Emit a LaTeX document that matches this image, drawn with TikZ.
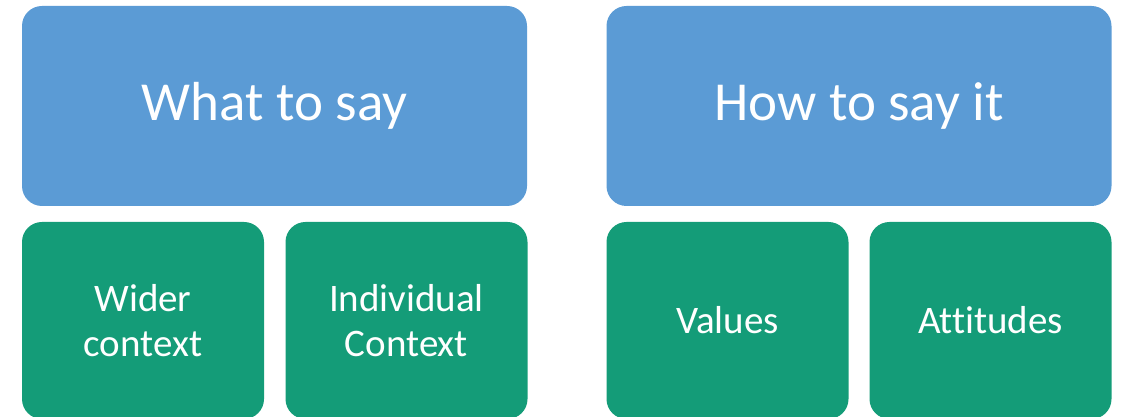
\documentclass[tikz,border=0pt]{standalone}
\usepackage{fontspec}
\setmainfont{Carlito}[Ligatures=NoCommon]
\usepackage{color}
\definecolor{BoxBlue}{HTML}{5B9BD5}
\definecolor{BoxGreen}{HTML}{149C78}
\tikzset{
  topbox/.style={fill=BoxBlue, text=white, rounded corners=20pt,
    minimum width=505pt, minimum height=200pt, inner sep=0pt,
    font=\fontsize{55}{66}\selectfont},
  subbox/.style={fill=BoxGreen, text=white, rounded corners=20pt,
    minimum width=242pt, minimum height=197pt, inner sep=0pt, align=center,
    font=\fontsize{39}{45}\selectfont}
}
\begin{document}
\begin{tikzpicture}[x=1pt, y=1pt]
      \useasboundingbox (0,0) rectangle (1125,417);
      % Top row
      \node[topbox] (what) at (274.5,311) {What to say};
      \node[topbox] (how) at (859,311) {How to say it};
      % Bottom row
      \node[subbox] (wider) at (143,96.5) {Wider\\context};
      \node[subbox] (indiv) at (406.5,96.5) {Individual\\Context};
      \node[subbox] (values) at (727.5,96.5) {Values};
      \node[subbox] (attit) at (990.5,96.5) {Attitudes};
    \end{tikzpicture}
\end{document}
